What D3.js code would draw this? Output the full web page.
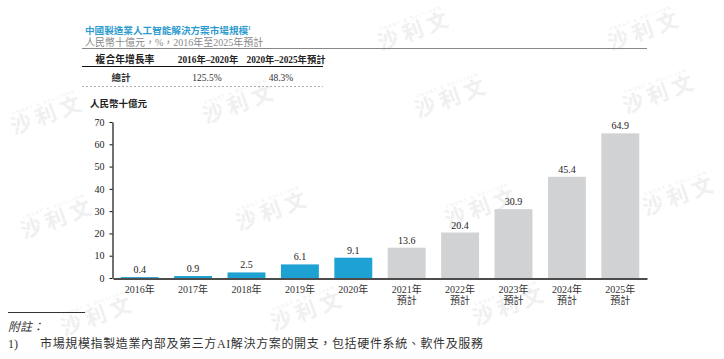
<!DOCTYPE html>
<html><head><meta charset="utf-8">
<script src="https://cdn.jsdelivr.net/npm/d3@7"></script>
<style>
html,body{margin:0;padding:0;background:#fff;}
svg{display:block;}
text{font-family:"Liberation Serif","Noto Sans CJK TC",serif;}
</style></head>
<body>
<svg id="chart" width="724" height="359"></svg>
<script>
const years = ["2016年","2017年","2018年","2019年","2020年","2021年","2022年","2023年","2024年","2025年"];
const forecastFlags = [false,false,false,false,false,true,true,true,true,true];
const values = [0.4,0.9,2.5,6.1,9.1,13.6,20.4,30.9,45.4,64.9];
const yTicks = [0,10,20,30,40,50,60,70];
const tableHeader = ["複合年增長率","2016年–2020年","2020年–2025年預計"];
const tableRow = ["總計","125.5%","48.3%"];
const titleText = "中國製造業人工智能解決方案市場規模";
const subtitleText = "人民幣十億元，%，2016年至2025年預計";
const unitText = "人民幣十億元";
const noteTitle = "附註：";
const noteText = "市場規模指製造業內部及第三方AI解決方案的開支，包括硬件系統、軟件及服務";

const svg = d3.select("#chart");
const BLUE = "#1ea1d3", GRAY = "#d1d2d3";

// watermarks
const wm = [[48,114],[240,103],[58,218],[273,210],[98,315],[308,310],[415,30],[452,97],[660,93],[482,207],[680,195],[510,305],[645,30]];
const wmg = svg.append("g");
wm.forEach(([x,y])=>{
  const g = wmg.append("g").attr("transform",`translate(${x},${y}) rotate(-20)`);
  g.append("text").attr("text-anchor","middle").attr("y",-11)
    .attr("font-size",4.5).attr("letter-spacing",1.5).attr("fill","#ececec")
    .style("font-family","'Liberation Sans',sans-serif")
    .text("FROST & SULLIVAN");
  g.append("text").attr("text-anchor","middle").attr("y",8)
    .attr("font-size",21).attr("font-weight","bold").attr("letter-spacing",5).attr("fill","#f0f0f0")
    .style("font-family","'Noto Sans CJK TC',sans-serif")
    .text("沙利文");
});

// title
const t = svg.append("text").attr("x",85).attr("y",34).attr("font-size",9.6).attr("font-weight","bold").attr("fill","#2f9ccf");
t.append("tspan").text(titleText);
t.append("tspan").attr("font-size",5.5).attr("dy",-4).text("1");
svg.append("text").attr("x",85).attr("y",46).attr("font-size",10).attr("fill","#8a8a8a").text(subtitleText);

// table lines
svg.append("line").attr("x1",82).attr("x2",647).attr("y1",48.5).attr("y2",48.5).attr("stroke","#888").attr("stroke-width",1);
svg.append("line").attr("x1",82).attr("x2",323).attr("y1",66.5).attr("y2",66.5).attr("stroke","#111").attr("stroke-width",1.2);
svg.append("line").attr("x1",82).attr("x2",323).attr("y1",86.5).attr("y2",86.5).attr("stroke","#999").attr("stroke-width",0.8).attr("stroke-dasharray","2,2");
const colX = [125,208,286];
tableHeader.forEach((h,i)=>{
  svg.append("text").attr("x",colX[i]).attr("y",62.5).attr("text-anchor","middle")
    .attr("font-size",i===0?9.8:9.3).attr("font-weight","bold").attr("fill","#222").text(h);
});
const rowX = [121,207,281];
tableRow.forEach((h,i)=>{
  svg.append("text").attr("x",rowX[i]).attr("y",80.5).attr("text-anchor","middle")
    .attr("font-size",9.5).attr("font-weight",i===0?"bold":"normal").attr("fill","#333").text(h);
});

// chart
svg.append("text").attr("x",90).attr("y",106.5).attr("font-size",9.5).attr("font-weight","bold").attr("fill","#222").text(unitText);

const x = d3.scaleBand().domain(years).range([113,647]).paddingInner(0.29).paddingOuter(0.145);
const y = d3.scaleLinear().domain([0,70]).range([278,122]);

svg.append("g").selectAll("rect").data(values).join("rect")
  .attr("x",(d,i)=>x(years[i])).attr("width",x.bandwidth())
  .attr("y",d=>y(d)).attr("height",d=>y(0)-y(d))
  .attr("fill",(d,i)=>forecastFlags[i]?GRAY:BLUE);

svg.append("g").selectAll("text").data(values).join("text")
  .attr("x",(d,i)=>x(years[i])+x.bandwidth()/2).attr("y",d=>y(d)-4)
  .attr("text-anchor","middle").attr("font-size",10).attr("fill","#222")
  .text(d=>d.toFixed(1));

const ya = svg.append("g").attr("transform","translate(112.5,0)")
  .call(d3.axisLeft(y).tickValues(yTicks).tickSize(3).tickPadding(5).tickSizeOuter(0));
ya.select(".domain").attr("stroke","#111").attr("stroke-width",1.2);
ya.selectAll(".tick line").attr("stroke","#111");
ya.selectAll(".tick text").attr("font-size",10).attr("fill","#222").style("font-family","'Liberation Serif',serif");

const xa = svg.append("g").attr("transform","translate(0,278.5)")
  .call(d3.axisBottom(x).tickSize(0).tickSizeOuter(0).tickFormat(()=>""));
xa.select(".domain").attr("stroke","#111").attr("stroke-width",1.5);
xa.selectAll(".tick").each(function(d,i){
  const g = d3.select(this);
  g.select("text").remove();
  g.append("text").attr("y",14.5).attr("text-anchor","middle").attr("font-size",10).attr("fill","#333").text(d);
  if(forecastFlags[i]) g.append("text").attr("y",25.5).attr("text-anchor","middle").attr("font-size",10).attr("fill","#333").text("預計");
});

// notes
svg.append("line").attr("x1",8).attr("x2",85).attr("y1",312.5).attr("y2",312.5).attr("stroke","#333").attr("stroke-width",1);
svg.append("text").attr("x",8).attr("y",331).attr("font-size",12).attr("font-style","italic").attr("fill","#333").text(noteTitle);
svg.append("text").attr("x",8).attr("y",347.5).attr("font-size",12).attr("fill","#333").text("1)");
svg.append("text").attr("x",40).attr("y",347.5).attr("font-size",12).attr("fill","#333")
  .attr("textLength",443).attr("lengthAdjust","spacing").text(noteText);
</script>
</body></html>
